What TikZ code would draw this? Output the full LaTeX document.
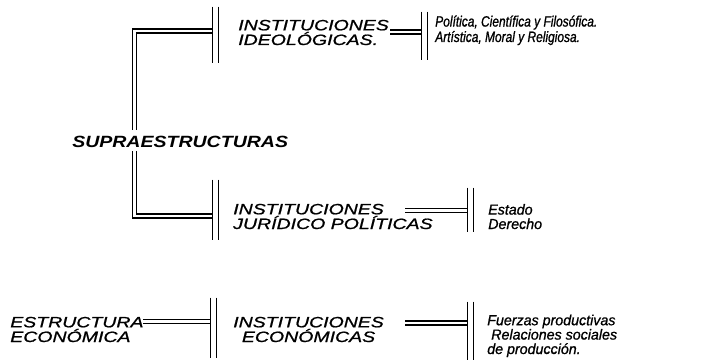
\documentclass[tikz,border=0pt]{standalone}
\usepackage{fontspec}
\setmainfont{Liberation Sans}
\newfontfamily\capsfont[FakeStretch=1.3,FakeBold=1.0]{Liberation Sans}
\newfontfamily\suprafont[FakeStretch=1.2]{Liberation Sans}
\newfontfamily\lowAfont[FakeStretch=0.8,FakeBold=1.0]{Liberation Sans}
\newfontfamily\lowBfont[FakeStretch=0.98,FakeBold=1.0]{Liberation Sans}
\begin{document}
\begin{tikzpicture}[x=0.75pt,y=-0.75pt,
  capslbl/.style={anchor=base west, inner sep=0pt, align=left, font=\capsfont\itshape\fontsize{11.25pt}{11pt}\selectfont},
  supralbl/.style={anchor=base west, inner sep=0pt, font=\suprafont\itshape\bfseries\fontsize{12.2pt}{12pt}\selectfont},
  lowA/.style={anchor=base west, inner sep=0pt, align=left, font=\lowAfont\itshape\fontsize{11.2pt}{9.2pt}\selectfont},
  lowB/.style={anchor=base west, inner sep=0pt, align=left, font=\lowBfont\itshape\fontsize{10.9pt}{10.8pt}\selectfont},
  barbox/.style={inner sep=0pt, minimum width=3.75pt, minimum height=#1, draw=none},
  barline/.style={line width=0.8pt},
  dbl/.style={double, double distance=2.2pt, line width=0.8pt},
]
\useasboundingbox (0,0) rectangle (708,360);

% bars
\node[barbox=42pt]   (b1) at (215.5,35) {};
\node[barbox=36pt]   (b2) at (424.5,36) {};
\node[barbox=45pt]   (b3) at (215.5,210) {};
\node[barbox=33pt]   (b4) at (470.5,210) {};
\node[barbox=45pt]   (b5) at (213.5,328) {};
\node[barbox=43.5pt] (b6) at (470.5,331) {};

% labels (anchored at the baseline of their last line)
\node[supralbl] (supra) at (72,148) {SUPRAESTRUCTURAS};
\node[capslbl] (ideo) at (238,45) {INSTITUCIONES\\IDEOLÓGICAS.};
\node[capslbl] (juri) at (233,229) {INSTITUCIONES\\JURÍDICO POLÍTICAS};
\node[capslbl] (estr) at (10,342) {ESTRUCTURA\\ECONÓMICA};
\node[capslbl, align=center] (econ) at (233,342) {INSTITUCIONES\\ECONÓMICAS};
\node[lowA] (ideoitems) at (435,42) {Política, Científica y Filosófica.\\Artística, Moral y Religiosa.};
\node[lowB] (juriitems) at (488,229) {Estado\\Derecho};
\node[lowB] (econitems) at (487,354) {Fuerzas productivas\\\hspace*{3pt}Relaciones sociales\\de producción.};

% tree connectors
\coordinate (t1) at (134.5,130);
\coordinate (t2) at (134.5,151);
\draw[dbl] (t1) |- ([yshift=3pt]b1.west);
\draw[dbl] (t2) |- ([yshift=-4.5pt]b3.west);

% horizontal connectors
\coordinate (c1) at (390,32);
\coordinate (c2) at (405,210.5);
\coordinate (c3) at (143,321.5);
\coordinate (c4) at (405,323);
\draw[dbl] (c1) -- (c1 -| b2.west);
\draw[dbl] (c2) -- (c2 -| b4.west);
\draw[dbl] (c3) -- (c3 -| b5.west);
\draw[dbl] (c4) -- (c4 -| b6.west);

% bar lines
\foreach \b in {b1,b2,b3,b4,b5,b6}
  \draw[barline] (\b.north west) -- (\b.south west) (\b.north east) -- (\b.south east);
\end{tikzpicture}
\end{document}
